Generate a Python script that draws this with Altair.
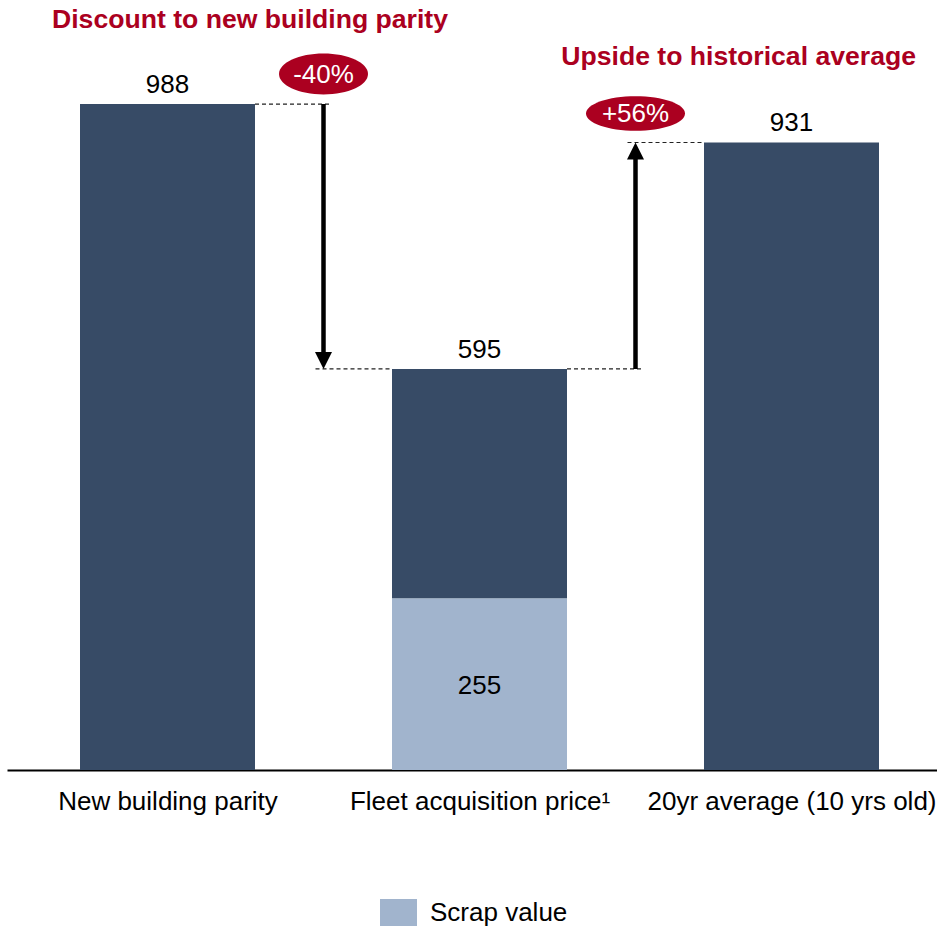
import json
import altair as alt
import pandas as pd

# ---------------- data ----------------
categories = ["New building parity", "Fleet acquisition price\u00b9", "20yr average (10 yrs old)"]
bar_totals = [988, 595, 931]
bar_bases = [0, 255, 0]
scrap_index = [1]
scrap_values = [255]
scrap_name = ["Scrap value"]
change_from = [0, 1]
change_to = [1, 2]
change_labels = ["-40%", "+56%"]
headlines = ["Discount to new building parity", "Upside to historical average"]

# ---------------- styles ----------------
DARK = "#374B66"
LIGHT = "#A1B4CD"
RED = "#AB0020"
FONT = "Liberation Sans"
STEP_PX = 312.0
HALF = 87.5 / STEP_PX      # half bar width, in category steps
OVER = 8.0 / STEP_PX       # connector overshoot beyond the arrow

idx = list(range(len(categories)))
bars = pd.DataFrame({"i": idx, "top": bar_totals, "base": bar_bases})
scrap = pd.DataFrame({"i": scrap_index, "value": scrap_values, "part": scrap_name})
scrap["mid"] = scrap["value"] / 2

x_lo = -(167.5 - 7) / STEP_PX
x_scale = alt.Scale(domain=[x_lo, x_lo + 930 / STEP_PX], nice=False, zero=False, padding=0)
y_scale = alt.Scale(domain=[0, 1142.4], nice=False, zero=True, padding=0)

x_axis = alt.Axis(
    values=idx,
    labelExpr=json.dumps(categories) + "[datum.value]",
    ticks=False, tickSize=0, grid=False,
    domainColor="black", domainWidth=2,
    labelFontSize=26, labelColor="black", labelFont=FONT,
    labelPadding=18, labelFlush=False, labelOverlap=False, labelAngle=0,
    labelLimit=1000,
    title=None,
)

def X(field):
    return alt.X(field, type="quantitative", scale=x_scale, axis=x_axis)

def Y(field):
    return alt.Y(field, type="quantitative", scale=y_scale, axis=None)

layers = []

# scrap part (with legend)
layers.append(
    alt.Chart(scrap).mark_bar(size=175).encode(
        x=X("i"), y=Y("value"), y2=alt.Y2("base0:Q"),
        color=alt.Color("part:N", scale=alt.Scale(domain=scrap_name, range=[LIGHT]),
                        legend=alt.Legend(
                            orient="none", legendX=373, legendY=894, title=None,
                            symbolType="M-1,-0.73L1,-0.73L1,0.73L-1,0.73Z",
                            symbolSize=1369, symbolStrokeWidth=0,
                            labelFontSize=26, labelFont=FONT, labelColor="black",
                            labelOffset=13, padding=0)),
    ).transform_calculate(base0="0")
)

# dark bars
layers.append(
    alt.Chart(bars).mark_bar(size=175, color=DARK).encode(
        x=X("i"), y=Y("top"), y2=alt.Y2("base:Q"),
    )
)

# connectors, arrows, ellipses
for a, b, lab in zip(change_from, change_to, change_labels):
    v_from = bar_totals[a]
    v_to = bar_totals[b]
    mid = (a + b) / 2
    segs = pd.DataFrame({
        "x1": [a + HALF, mid - OVER],
        "x2": [mid + OVER, b - HALF],
        "y": [v_from, v_to],
    })
    layers.append(
        alt.Chart(segs).mark_rule(color="#222222", strokeWidth=1.2, strokeDash=[4, 3]).encode(
            x=X("x1"), x2=alt.X2("x2:Q"), y=Y("y"),
        )
    )
    down = v_to < v_from
    arrow = pd.DataFrame({"x": [mid], "y1": [v_from], "y2": [v_to], "label": [lab],
                          "top": [max(v_from, v_to)]})
    layers.append(
        alt.Chart(arrow).mark_rule(color="black", strokeWidth=4.5,
                                   y2Offset=(-9 if down else 9)).encode(
            x=X("x"), y=Y("y1"), y2=alt.Y2("y2:Q"),
        )
    )
    head_path = "M-1,-1L1,-1L0,1Z" if down else "M-1,1L1,1L0,-1Z"
    layers.append(
        alt.Chart(arrow).mark_point(shape=head_path, size=289, filled=True, color="black",
                                    opacity=1, strokeWidth=0,
                                    yOffset=(-8.5 if down else 8.5)).encode(
            x=X("x"), y=Y("y2"),
        )
    )
    if down:
        r, w, off = 0.46, 89, -30
    else:
        r, w, off = 0.35, 99, -29
    k = 0.5523
    ell = (f"M-1,0 C-1,{-r*k:.4f} {-k},{-r} 0,{-r} C{k},{-r} 1,{-r*k:.4f} 1,0 "
           f"C1,{r*k:.4f} {k},{r} 0,{r} C{-k},{r} -1,{r*k:.4f} -1,0 Z")
    layers.append(
        alt.Chart(arrow).mark_point(shape=ell, size=w * w, filled=True, color=RED,
                                    opacity=1, strokeWidth=0, yOffset=off).encode(
            x=X("x"), y=Y("top"),
        )
    )
    layers.append(
        alt.Chart(arrow).mark_text(color="white", fontSize=26, font=FONT,
                                   baseline="middle", dy=off + 1).encode(
            x=X("x"), y=Y("top"), text="label:N",
        )
    )

# value labels
layers.append(
    alt.Chart(bars).mark_text(fontSize=26, font=FONT, color="black",
                              baseline="alphabetic", dy=-11).encode(
        x=X("i"), y=Y("top"), text="top:Q",
    )
)
layers.append(
    alt.Chart(scrap).mark_text(fontSize=26, font=FONT, color="black",
                               baseline="middle", dy=2).encode(
        x=X("i"), y=Y("mid"), text="value:Q",
    )
)

# headlines
h1 = pd.DataFrame({"t": [headlines[0]]})
h2 = pd.DataFrame({"t": [headlines[1]]})
layers.append(
    alt.Chart(h1).mark_text(fontSize=26.6, font=FONT, fontWeight="bold", color=RED,
                            align="left", baseline="alphabetic").encode(
        x=alt.value(45), y=alt.value(28), text="t:N",
    )
)
layers.append(
    alt.Chart(h2).mark_text(fontSize=26.6, font=FONT, fontWeight="bold", color=RED,
                            align="right", baseline="alphabetic").encode(
        x=alt.value(909), y=alt.value(65), text="t:N",
    )
)

chart = alt.layer(*layers).properties(
    width=930, height=770,
    autosize=alt.AutoSizeParams(type="none"),
    padding={"left": 7, "top": 0, "right": 0, "bottom": 159},
).configure(font=FONT).configure_view(strokeWidth=0, stroke=None)

chart.save("out.html", embed_options={"renderer": "svg", "actions": False})
